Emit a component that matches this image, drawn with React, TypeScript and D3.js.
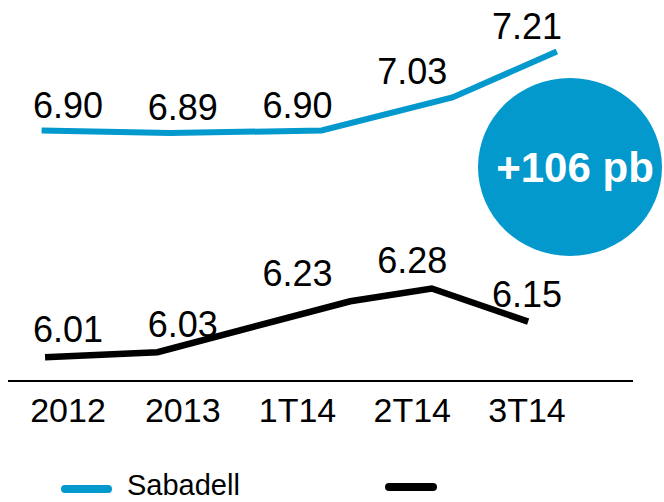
import React from "react";
import * as d3 from "d3";

const categories = ["2012", "2013", "1T14", "2T14", "3T14"];
const sabadellValues = [6.9, 6.89, 6.9, 7.03, 7.21];
const otherValues = [6.01, 6.03, 6.23, 6.28, 6.15];
// positions of the line vertices along the category axis (in category units, as drawn)
const sabadellPos = [-0.23, 0.89, 2.21, 3.35, 4.26];
const otherPos = [-0.2, 0.78, 2.46, 3.17, 4.01];
const seriesNames = ["Sabadell", ""];
const badgeText = "+106 pb";

const W = 664;
const H = 502;
const BLUE = "#0399CC";
const FONT = "'Liberation Sans', Arial, Helvetica, sans-serif";

export default function App() {
  const x = d3.scalePoint<string>().domain(categories).range([68, 527]);
  const xPos = d3.scaleLinear().domain([0, categories.length - 1]).range([68, 527]);
  const y = d3.scaleLinear().domain([5.8, 7.3]).range([410.8, 28.6]);

  const line = d3
    .line<[number, number]>()
    .x((d) => xPos(d[0]))
    .y((d) => y(d[1]))
    .curve(d3.curveLinear);

  const blueData: [number, number][] = sabadellPos.map((p, i) => [p, sabadellValues[i]]);
  const blackData: [number, number][] = otherPos.map((p, i) => [p, otherValues[i]]);
  const fmt = d3.format(".2f");

  return (
    <svg
      width={W}
      height={H}
      style={{ position: "absolute", left: 0, top: 0, background: "#fff" }}
      fontFamily={FONT}
    >
      <path d={line(blueData) || ""} fill="none" stroke={BLUE} strokeWidth={6} />
      <path d={line(blackData) || ""} fill="none" stroke="#000" strokeWidth={6.5} />

      {sabadellValues.map((v, i) => (
        <text key={"b" + i} x={x(categories[i])!} y={y(v) - 13} fontSize={36} textAnchor="middle" fill="#000">
          {fmt(v)}
        </text>
      ))}
      {otherValues.map((v, i) => (
        <text key={"k" + i} x={x(categories[i])!} y={y(v) - 15} fontSize={36} textAnchor="middle" fill="#000">
          {fmt(v)}
        </text>
      ))}

      <line x1={8} x2={633} y1={381} y2={381} stroke="#000" strokeWidth={2} />
      {categories.map((c) => (
        <text key={c} x={x(c)} y={422} fontSize={34} textAnchor="middle" fill="#000">
          {c}
        </text>
      ))}

      <ellipse cx={570} cy={167} rx={92} ry={89} fill={BLUE} />
      <text x={575} y={182} fontSize={42} fontWeight="bold" textAnchor="middle" fill="#fff">
        {badgeText}
      </text>

      <line x1={65} x2={108} y1={489} y2={489} stroke={BLUE} strokeWidth={8} strokeLinecap="round" />
      <text x={127} y={495} fontSize={29} fill="#000">
        {seriesNames[0]}
      </text>
      <line x1={389} x2={433} y1={487} y2={487} stroke="#000" strokeWidth={8} strokeLinecap="round" />
      <text x={460} y={495} fontSize={29} fill="#000">
        {seriesNames[1]}
      </text>
    </svg>
  );
}
